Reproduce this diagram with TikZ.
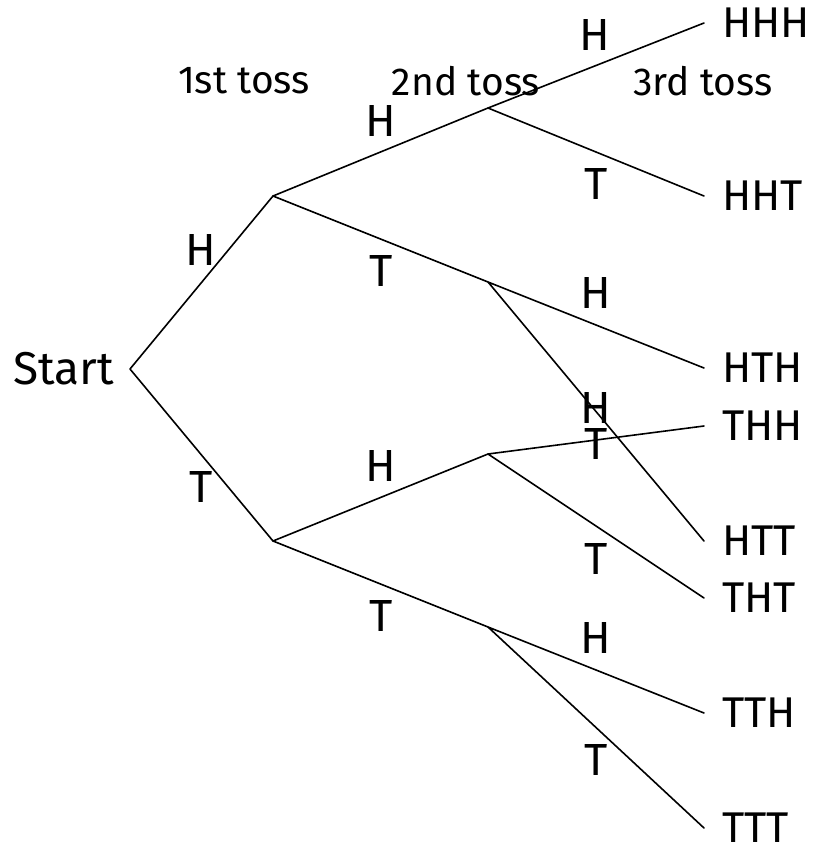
\documentclass[tikz,border=0pt]{standalone}
\usepackage{fontspec}
\setmainfont{Fira Sans}
\begin{document}
\begin{tikzpicture}[x=1pt,y=-1pt,
  br/.style={line width=1.6pt, line cap=round, line join=round},
  lbl/.style={inner sep=0pt, font=\fontsize{45}{48}\selectfont},
  leaf/.style={anchor=west, inner ysep=0pt, inner xsep=18pt, font=\fontsize{43}{46}\selectfont},
  toss/.style={inner sep=0pt, font=\fontsize{39}{42}\selectfont}]
\useasboundingbox (0,0) rectangle (816,847);
% vertices
\node[anchor=east, inner xsep=16pt, inner ysep=0pt, font=\fontsize{46}{48}\selectfont] (S) at (130,369) {Start};
\coordinate (H) at (273,196);
\coordinate (T) at (273,541);
\coordinate (HH) at (488,108);
\coordinate (HT) at (488,282);
\coordinate (TH) at (488,454);
\coordinate (TT) at (488,627);
% leaves
\node[leaf] (HHH) at (704,23) {HHH};
\node[leaf] (HHT) at (704,196) {HHT};
\node[leaf] (HTH) at (704,368) {HTH};
\node[leaf] (THH) at (704,426) {THH};
\node[leaf] (HTT) at (704,541) {HTT};
\node[leaf] (THT) at (704,598) {THT};
\node[leaf] (TTH) at (704,713) {TTH};
\node[leaf] (TTT) at (704,828) {TTT};
% branches
\draw[br] (H) -- (S.east) -- (T);
\draw[br] (HH) -- (H) -- (HT);
\draw[br] (TH) -- (T) -- (TT);
\draw[br] (HHH.west) -- (HH) -- (HHT.west);
\draw[br] (HTH.west) -- (HT) -- (HTT.west);
\draw[br] (THH.west) -- (TH) -- (THT.west);
\draw[br] (TTH.west) -- (TT) -- (TTT.west);
% toss headings
\node[toss] (t1) at (244,81) {1st toss};
\node[toss] (t2) at (466,81) {2nd toss};
\node[toss] (t3) at (703,81) {3rd toss};
% edge labels
\node[lbl] (l1) at (201,250) {H};
\node[lbl] (l2) at (201,487) {T};
\node[lbl] (l3) at (381,121) {H};
\node[lbl] (l4) at (381,271) {T};
\node[lbl] (l5) at (381,466) {H};
\node[lbl] (l6) at (381,616) {T};
\node[lbl] (l7) at (595,35) {H};
\node[lbl] (l8) at (596,184) {T};
\node[lbl] (l9) at (596,293) {H};
\node[lbl] (l10) at (596,408) {H};
\node[lbl] (l11) at (596,444) {T};
\node[lbl] (l12) at (596,559) {T};
\node[lbl] (l13) at (596,638) {H};
\node[lbl] (l14) at (596,760) {T};
\end{tikzpicture}
\end{document}
